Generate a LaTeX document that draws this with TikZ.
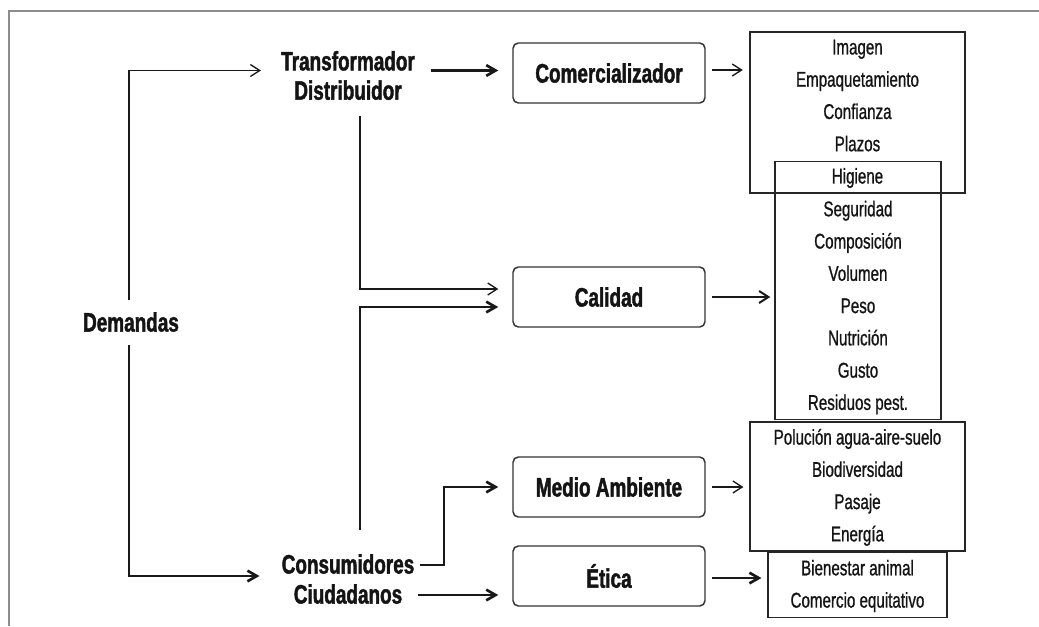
\documentclass[tikz,border=0pt]{standalone}
\usepackage{fontspec}
\setmainfont{Liberation Sans}[FakeStretch=0.71, FakeBold=0.9]
\newfontfamily\bfam{Liberation Sans}[FakeStretch=0.71, BoldFeatures={FakeBold=1.6}]
\usetikzlibrary{arrows.meta,calc}
\begin{document}
\begin{tikzpicture}[x=0.75pt,y=-0.75pt,
  lbl/.style={font=\bfam\bfseries\fontsize{20}{22}\selectfont, align=center, text=black!92, inner sep=0pt},
  rbox/.style={draw=black!80, line width=1.1pt, rounded corners=4pt, minimum width=144pt, minimum height=45pt,
    font=\bfam\bfseries\fontsize{20}{22}\selectfont, text=black!92, inner sep=0pt},
  lbox/.style={draw=black!85, line width=1.1pt, font=\fontsize{16}{24.2}\selectfont, align=center, text=black!92, inner sep=0pt},
  tarr/.style={draw=black!90, line width=1pt, -{Straight Barb[length=7pt,width=9pt]}},
  marr/.style={draw=black!90, line width=1.5pt, -{Straight Barb[length=7pt,width=9pt]}},
  karr/.style={draw=black!90, line width=2pt, -{Straight Barb[length=7pt,width=8pt]}}
]
\useasboundingbox (0,0) rectangle (1039,626);
\draw[black!45, line width=1.6pt] (9,626) -- (9,11) -- (1039,11);

% labels
\node[lbl] (Dem) at (131,322) {Demandas};
\node[lbl] (TD) at (348,75.5) {Transformador\\Distribuidor};
\node[lbl, font=\bfam\bfseries\fontsize{20}{22.5}\selectfont] (CC) at (348,579) {Consumidores\\Ciudadanos};

% rounded boxes
\node[rbox] (Com) at (609,73) {Comercializador};
\node[rbox] (Cal) at (609,297) {Calidad};
\node[rbox] (MA) at (609,487) {Medio Ambiente};
\node[rbox] (Et) at (609,576) {Ética};

% list boxes
\node[lbox, minimum width=124.5pt, minimum height=193pt] (L2) at (858,290.5)
  {\strut\\Seguridad\\Composición\\Volumen\\Peso\\Nutrición\\Gusto\\Residuos pest.\strut};
\node[lbox, minimum width=161pt, minimum height=121pt] (L1) at (857.5,112.5)
  {\strut Imagen\\Empaquetamiento\\Confianza\\Plazos\\Higiene\strut};
\node[lbox, minimum width=161pt, minimum height=92pt] (L3) at (857.5,486.5)
  {\strut Polución agua-aire-suelo\\Biodiversidad\\Pasaje\\Energía\strut};
\node[lbox, minimum width=134pt, minimum height=48pt] (L4) at (857.5,585)
  {\strut Bienestar animal\\Comercio equitativo\strut};

% free points
\coordinate (d1) at ($(Dem)+(-2,-22)$);
\coordinate (d2) at ($(Dem)+(-2,23)$);
\coordinate (t1) at ($(TD.east)+(16,-5)$);
\coordinate (t2) at ($(TD.center)+(12,40)$);
\coordinate (cal1) at ($(Cal.west)+(-14,-8)$);
\coordinate (cal2) at ($(Cal.west)+(-14,10)$);
\coordinate (c1) at ($(CC.center)+(12,-49)$);
\coordinate (c2) at ($(CC.center)+(72,-14)$);
\coordinate (c3) at ($(CC.center)+(96,-14)$);
\coordinate (c4) at ($(CC.center)+(70,16)$);
\coordinate (m1) at ($(MA.west)+(-14,0)$);

% connectors
\draw[tarr] (d1) |- ($(TD.west)+(-20,-5)$);
\draw[karr] (d2) |- ($(CC.west)+(-22,-3)$);
\draw[karr, shorten >=10.5pt] (t1) -- (t1 -| Com.west);
\draw[tarr] (t2) |- (cal1);
\draw[karr] (c1) |- (cal2);
\draw[karr] (c2) -- (c3) |- (m1);
\draw[karr, shorten >=10.5pt] (c4) -- (c4 -| Et.west);

\draw[tarr, shorten <=5pt, shorten >=5pt] ($(Com.east)+(0,-3)$) coordinate (e1) -- (e1 -| L1.west);
\draw[marr, shorten <=5pt, shorten >=3pt] (Cal.east) -- (Cal.east -| L2.west);
\draw[tarr, shorten <=5pt, shorten >=4.5pt] (MA.east) -- (MA.east -| L3.west);
\draw[karr, shorten <=5pt, shorten >=4.5pt] ($(Et.east)+(0,2)$) coordinate (e4) -- (e4 -| L4.west);
\end{tikzpicture}
\end{document}
